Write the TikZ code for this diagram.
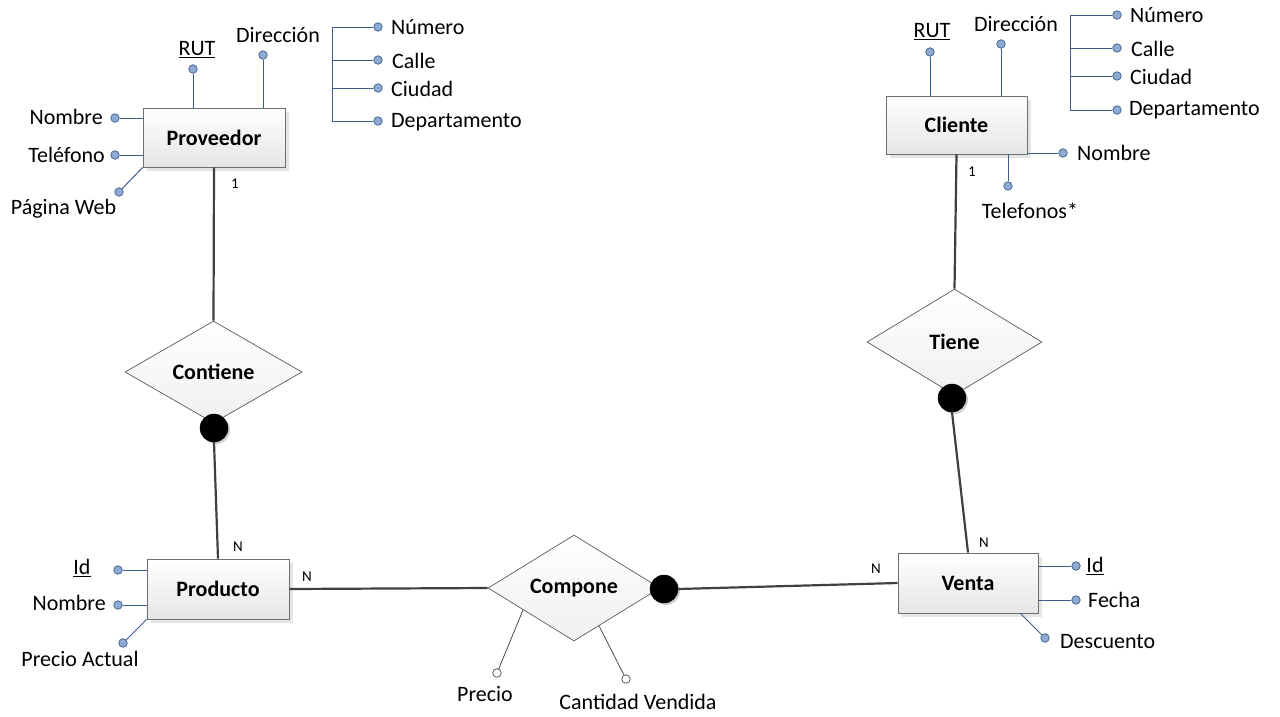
\documentclass[tikz,border=0pt]{standalone}
\usepackage{fontspec}
\setmainfont{Carlito}
\usetikzlibrary{shapes.geometric,shadows,calc}
\definecolor{attrblue}{RGB}{58,94,140}
\definecolor{dotfill}{RGB}{143,170,210}
\definecolor{boxline}{RGB}{110,110,110}
\begin{document}
\begin{tikzpicture}[x=1pt,y=-1pt,
  lbl/.style={font=\fontsize{22}{25}\selectfont, inner sep=0pt},
  card/.style={font=\fontsize{15}{17}\selectfont, inner sep=0pt},
  ent/.style={draw=boxline, line width=0.9pt, top color=white, bottom color=black!10,
    font=\fontsize{22}{25}\selectfont\bfseries, inner sep=0pt,
    drop shadow={shadow xshift=4pt, shadow yshift=-4pt, fill=black!10, opacity=1}},
  rel/.style={diamond, draw=black!65, line width=0.7pt, top color=white, bottom color=black!6,
    font=\fontsize{22}{25}\selectfont\bfseries, inner sep=0pt},
  part/.style={circle, fill=black, draw=black, minimum size=28pt, inner sep=0pt,
    drop shadow={shadow xshift=2pt, shadow yshift=-2pt, fill=black!20, opacity=1}},
  adot/.style={circle, draw=attrblue, line width=0.7pt, fill=dotfill, minimum size=8.5pt, inner sep=0pt},
  odot/.style={circle, draw=black!70, line width=0.7pt, fill=white, minimum size=8.5pt, inner sep=0pt},
  aline/.style={draw=attrblue, line width=1pt},
  rline/.style={draw=black!70, line width=0.8pt},
  conn/.style={draw=black!75, line width=2.2pt}
]
\useasboundingbox (0,0) rectangle (1280,716);

% ---------- Entities ----------
\node[ent, minimum width=142pt, minimum height=59pt] (prov) at (214,137.5) {Proveedor};
\node[ent, minimum width=141pt, minimum height=58pt] (cli) at (956.5,125) {Cliente};
\node[ent, minimum width=142pt, minimum height=60pt] (prod) at (218,589) {Producto};
\node[ent, minimum width=140pt, minimum height=60pt] (venta) at (968,583) {Venta};

% ---------- Relationships ----------
\node[rel, minimum width=177pt, minimum height=102pt] (cont) at (213.5,372) {Contiene};
\node[rel, minimum width=172pt, minimum height=106pt] (comp) at (574,588) {Compone};
\node[rel, minimum width=175pt, minimum height=106pt] (tiene) at (954.5,342) {Tiene};

% ---------- Main connectors ----------
\draw[conn] (prov.south) -- (cont.north);
\draw[conn] (cli.south) -- (tiene.north);
\draw[conn] (prod.east) -- (comp.west);
\node[part] (pcont) at (214,428) {};
\node[part] (pcomp) at (664,589) {};
\node[part] (ptiene) at (952,398) {};
\draw[conn] (pcont.south) -- (prod.north);
\draw[conn] (pcomp.east) -- (venta.west);
\draw[conn] (ptiene.south) -- (venta.north);

% ---------- Cardinalities ----------
\node[card] (c1) at (235,184) {1};
\node[card] (c2) at (238,547) {N};
\node[card] (c3) at (307,577) {N};
\node[card] (c4) at (876,569) {N};
\node[card] (c5) at (984,543) {N};
\node[card] (c6) at (972,172) {1};

% ---------- Proveedor attributes ----------
\node[adot] (rutP) at (193,69) {};
\draw[aline] (rutP) -- (rutP |- prov.north);
\node[lbl] (rutPl) at (197,50) {\underline{RUT}};
\node[adot] (dirP) at (263,55) {};
\draw[aline] (dirP) -- (dirP |- prov.north);
\node[lbl] (dirPl) at (278,35) {Dirección};
\coordinate (bPt) at (332,27);
\coordinate (bPb) at (332,121);
\node[adot] (numP) at (378,27) {};
\node[adot] (calP) at (378,60) {};
\node[adot] (ciuP) at (378,88) {};
\node[adot] (depP) at (378,121) {};
\draw[aline] (numP) -- (bPt) -- (bPb) -- (depP);
\draw[aline] (calP) -- (calP -| bPt);
\draw[aline] (ciuP) -- (ciuP -| bPt);
\node[lbl, anchor=west] (numPl) at (391,27) {Número};
\node[lbl, anchor=west] (calPl) at (392,61) {Calle};
\node[lbl, anchor=west] (ciuPl) at (391,89) {Ciudad};
\node[lbl, anchor=west] (depPl) at (391,122) {Departamento};
\node[adot] (nomP) at (115,118) {};
\draw[aline] (nomP) -- (nomP -| prov.west);
\node[lbl, anchor=east] (nomPl) at (103,117) {Nombre};
\node[adot] (telP) at (115,155) {};
\draw[aline] (telP) -- (telP -| prov.west);
\node[lbl, anchor=east] (telPl) at (105,155) {Teléfono};
\node[adot] (webP) at (119,192) {};
\draw[aline] (webP) -- (prov.south west);
\node[lbl] (webPl) at (63.5,209) {Página Web};

% ---------- Cliente attributes ----------
\node[adot] (rutC) at (930,52) {};
\draw[aline] (rutC) -- (rutC |- cli.north);
\node[lbl] (rutCl) at (932,32) {\underline{RUT}};
\node[adot] (dirC) at (1001,44) {};
\draw[aline] (dirC) -- (dirC |- cli.north);
\node[lbl] (dirCl) at (1016,24) {Dirección};
\coordinate (bCt) at (1070,15);
\coordinate (bCb) at (1070,110);
\node[adot] (numC) at (1117,15) {};
\node[adot] (calC) at (1117,48) {};
\node[adot] (ciuC) at (1117,76) {};
\node[adot] (depC) at (1117,110) {};
\draw[aline] (numC) -- (bCt) -- (bCb) -- (depC);
\draw[aline] (calC) -- (calC -| bCt);
\draw[aline] (ciuC) -- (ciuC -| bCt);
\node[lbl, anchor=west] (numCl) at (1130,15) {Número};
\node[lbl, anchor=west] (calCl) at (1131,49) {Calle};
\node[lbl, anchor=west] (ciuCl) at (1130,77) {Ciudad};
\node[lbl, anchor=west] (depCl) at (1129,110) {Departamento};
\node[adot] (nomC) at (1063,153) {};
\draw[aline] (nomC) -- (nomC -| cli.east);
\node[lbl, anchor=west] (nomCl) at (1077,153) {Nombre};
\node[adot] (telC) at (1008,186) {};
\draw[aline] (telC) -- (telC |- cli.south);
\node[lbl] (telCl) at (1030,211) {Telefonos*};

% ---------- Producto attributes ----------
\node[adot] (idP) at (118,570) {};
\draw[aline] (idP) -- (idP -| prod.west);
\node[lbl] (idPl) at (82,568) {\underline{Id}};
\node[adot] (nprP) at (118,605) {};
\draw[aline] (nprP) -- (nprP -| prod.west);
\node[lbl, anchor=east] (nprPl) at (106,603) {Nombre};
\node[adot] (paP) at (123,643) {};
\draw[aline] (paP) -- (prod.south west);
\node[lbl] (paPl) at (80,659) {Precio Actual};

% ---------- Venta attributes ----------
\node[adot] (idV) at (1076,566) {};
\draw[aline] (idV) -- (idV -| venta.east);
\node[lbl] (idVl) at (1095,566) {\underline{Id}};
\node[adot] (feV) at (1076,600) {};
\draw[aline] (feV) -- (feV -| venta.east);
\node[lbl, anchor=west] (feVl) at (1088,600) {Fecha};
\node[adot] (deV) at (1045,638) {};
\draw[aline] (deV) -- ([xshift=-18pt]venta.south east);
\node[lbl, anchor=west] (deVl) at (1060,642) {Descuento};

% ---------- Compone attributes ----------
\node[odot] (preC) at (497,673) {};
\draw[rline] (preC) -- ($(comp.west)!0.41!(comp.south)$);
\node[lbl] (preCl) at (485,694) {Precio};
\node[odot] (canC) at (626,679) {};
\draw[rline] (canC) -- ($(comp.south)!0.29!(comp.east)$);
\node[lbl] (canCl) at (638,702) {Cantidad Vendida};
\end{tikzpicture}
\end{document}
